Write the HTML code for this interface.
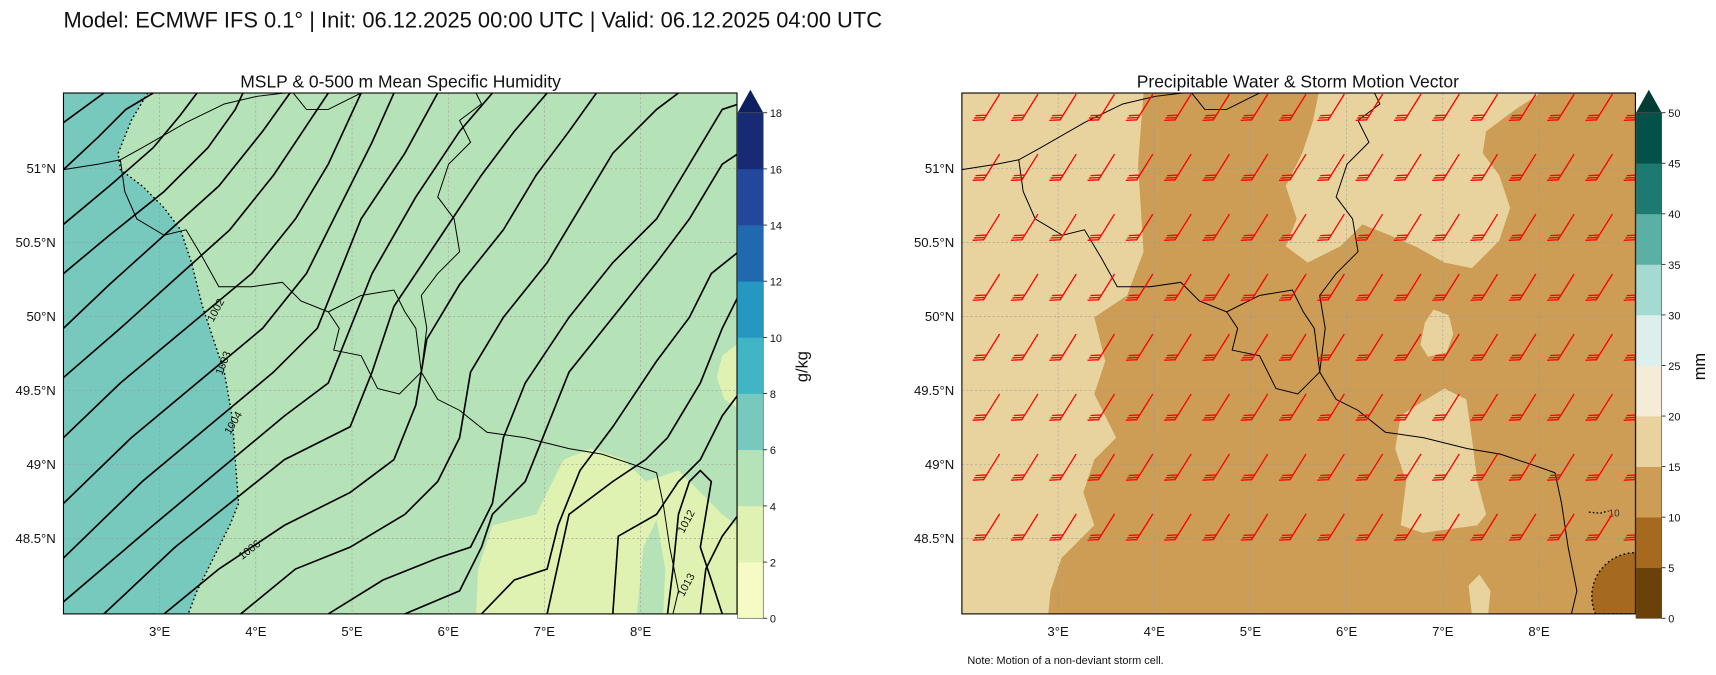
<!DOCTYPE html>
<html><head><meta charset="utf-8">
<style>
html,body{margin:0;padding:0;background:#fff;}
svg{display:block;font-family:"Liberation Sans","DejaVu Sans",sans-serif;}
</style></head>
<body>
<svg id="fig" width="1716" height="675" viewBox="0 0 1716 675" xmlns="http://www.w3.org/2000/svg">
<defs>
<clipPath id="clipL"><rect x="58" y="85" width="615.5" height="476"/></clipPath>
<clipPath id="clipR"><rect x="879" y="85" width="615.5" height="476"/></clipPath>
</defs>
<g id="root" transform="scale(1.0943)">
<text x="58" y="25" font-size="20" fill="#111">Model: ECMWF IFS 0.1° | Init: 06.12.2025 00:00 UTC | Valid: 06.12.2025 04:00 UTC</text>

<!-- LEFT MAP -->
<text x="366" y="80" font-size="16" text-anchor="middle" fill="#111">MSLP &amp; 0-500 m Mean Specific Humidity</text>
<g clip-path="url(#clipL)">
<rect x="58" y="85" width="616" height="476" fill="#b6e2b7"/>
<polygon fill="#77c8bd" points="58,85 135,85 120,110 108,140 110,155 130,170 150,190 165,210 175,240 185,280 195,310 205,340 212,380 215,420 218,460 210,480 195,510 180,540 172,561 58,561"/>
<polyline fill="none" stroke="#000" stroke-width="1.3" stroke-dasharray="1.5,2.5" points="135,85 120,110 108,140 110,155 130,170 150,190 165,210 175,240 185,280 195,310 205,340 212,380 215,420 218,460 210,480 195,510 180,540 172,561"/>
<polygon fill="#dff2b2" points="435,561 437,520 450,480 490,470 515,420 540,410 570,420 590,440 620,430 640,450 660,470 673,480 673,561"/>
<polygon fill="#b6e2b7" points="582,561 588,500 600,475 608,520 606,561"/>
<polygon fill="#dff2b2" points="673,315 660,325 655,345 662,365 673,372"/>
<g id="gridL"></g>
<g id="contoursL" fill="none" stroke="#000" stroke-width="1.5"></g>
<g id="bordersL" fill="none" stroke="#000" stroke-width="0.9"></g>
<g font-size="10" fill="#111">
<text x="200" y="285" transform="rotate(-62 200 285)" text-anchor="middle">1002</text>
<text x="207" y="333" transform="rotate(-68 207 333)" text-anchor="middle">1003</text>
<text x="216" y="388" transform="rotate(-60 216 388)" text-anchor="middle">1004</text>
<text x="230" y="505" transform="rotate(-38 230 505)" text-anchor="middle">1006</text>
<text x="630" y="478" transform="rotate(-62 630 478)" text-anchor="middle">1012</text>
<text x="630" y="536" transform="rotate(-62 630 536)" text-anchor="middle">1013</text>
</g>
</g>
<rect x="58" y="85" width="615.5" height="476" fill="none" stroke="#000" stroke-width="1"/>
<g id="cbarL"></g>
<text x="738" y="335" font-size="15" text-anchor="middle" transform="rotate(-90 738 335)" fill="#111">g/kg</text>

<!-- RIGHT MAP -->
<text x="1186" y="80" font-size="16" text-anchor="middle" fill="#111">Precipitable Water &amp; Storm Motion Vector</text>
<g clip-path="url(#clipR)">
<rect x="879" y="85" width="616" height="476" fill="#e8d39e"/>
<polygon fill="#cd9c55" points="1045,85 1040,150 1045,230 1030,270 1000,290 1010,330 1000,360 1020,400 1000,420 990,450 1000,480 970,510 960,540 958,561 1495,561 1495,85"/>
<polygon fill="#e8d39e" points="1205,85 1408,85 1385,100 1358,120 1355,140 1370,160 1380,190 1370,220 1345,245 1320,240 1295,226 1270,215 1245,205 1225,225 1195,240 1175,225 1185,200 1175,170 1190,140 1200,110"/>
<polygon fill="#e8d39e" points="1310,283 1324,288 1328,305 1322,322 1305,326 1298,315 1302,295"/>
<polygon fill="#e8d39e" points="1320,355 1340,365 1345,400 1350,440 1358,470 1350,480 1300,487 1280,480 1285,440 1275,410 1280,380 1295,370"/>
<polygon fill="#e8d39e" points="1342,535 1352,525 1362,540 1360,561 1345,561"/>
<path d="M1458,561 A40,40 0 0 1 1495,505 L1495,561 Z" fill="#a56a20" stroke="#000" stroke-width="1.3" stroke-dasharray="1.5,2.5"/>
<polyline points="1452,468 1462,469 1470,467" fill="none" stroke="#000" stroke-width="1.2" stroke-dasharray="1.5,2"/>
<text x="1470" y="472" font-size="9" fill="#333">10</text>
<g id="gridR"></g>
<g id="bordersR" fill="none" stroke="#000" stroke-width="0.9"></g>
<g id="barbs" fill="none" stroke="#f00" stroke-width="1.2"></g>
</g>
<rect x="879" y="85" width="615.5" height="476" fill="none" stroke="#000" stroke-width="1"/>
<g id="cbarR"></g>
<text x="1558" y="335" font-size="15" text-anchor="middle" transform="rotate(-90 1558 335)" fill="#111">mm</text>
<text x="884" y="607" font-size="10" fill="#111">Note: Motion of a non-deviant storm cell.</text>
<g id="axes"></g>
</g>
</svg>
<script>
// ---- data ----
var lonTicks = [3, 4, 5, 6, 7, 8];
var latTicks = [51, 50.5, 50, 49.5, 49, 48.5];
var humidityLevels = [0, 2, 4, 6, 8, 10, 12, 14, 16, 18];
var humidityColors = ["#f6fbc6", "#dff2b2", "#b6e2b7", "#77c8bd", "#40b5c4", "#2498c1", "#2069ae", "#23479c", "#172a73"];
var humidityExtend = "#0e2060";
var pwLevels = [0, 5, 10, 15, 20, 25, 30, 35, 40, 45, 50];
var pwColors = ["#6b4109", "#a56a20", "#cd9c55", "#e8d39e", "#f5ecd8", "#dcefec", "#a5dad2", "#5bb0a5", "#1c7a70", "#02524a"];
var pwExtend = "#013d35";
var barbCols = 18, barbRows = 8;

var NS = "http://www.w3.org/2000/svg";
function mk(tag, attrs, parent){ var e=document.createElementNS(NS,tag); for(var k in attrs) e.setAttribute(k,attrs[k]); parent.appendChild(e); return e; }
function lonX(lon, x0){ return x0 + (lon-2)*87.9; }
function latY(lat){ return 154 + (51-lat)*135.3; }

var axes = document.getElementById('axes');
[58, 879].forEach(function(x0, idx){
  var grid = document.getElementById(idx? 'gridR':'gridL');
  lonTicks.forEach(function(l){
    var x = lonX(l, x0);
    var g = mk('line',{x1:x,y1:85,x2:x,y2:561,stroke:'#999','stroke-width':0.5,'stroke-dasharray':'2,2'},grid);
    
    
    var t = mk('text',{x:x,y:581,'font-size':12,'text-anchor':'middle',fill:'#111'},axes);
    t.textContent = l + '°E';
    
    
  });
  latTicks.forEach(function(l){
    var y = latY(l);
    var g = mk('line',{x1:x0,y1:y,x2:x0+616,y2:y,stroke:'#999','stroke-width':0.5,'stroke-dasharray':'2,2'},grid);
    
    
    var t = mk('text',{x:x0-7,y:y+4,'font-size':12,'text-anchor':'end',fill:'#111'},axes);
    t.textContent = l + '°N';
    
    
  });
});

function colorbar(id, x, levels, colors, ext){
  var g = document.getElementById(id);
  var top=103, bot=565, w=23.5, n=levels.length-1;
  var vmax = levels[n], vmin = levels[0];
  function vy(v){ return bot - (v-vmin)/(vmax-vmin)*(bot-top); }
  for(var i=0;i<n;i++){
    var r = mk('rect',{x:x,y:vy(levels[i+1]),width:w,height:vy(levels[i])-vy(levels[i+1])+0.3,fill:colors[i]},g);
    
    
  }
  var tri = mk('polygon',{points:x+','+top+' '+(x+w/2)+','+(top-21)+' '+(x+w)+','+top,fill:ext},g);
  
  
  mk('rect',{x:x,y:top,width:w,height:bot-top,fill:'none',stroke:'#555','stroke-width':0.6},g);
  levels.forEach(function(v){
    var y=vy(v);
    mk('line',{x1:x+w,y1:y,x2:x+w+3.5,y2:y,stroke:'#222','stroke-width':0.8},g);
    var t = mk('text',{x:x+w+6,y:y+4,'font-size':10,fill:'#111'},g);
    t.textContent = v;
    
    
  });
}
colorbar('cbarL', 674, humidityLevels, humidityColors, humidityExtend);
colorbar('cbarR', 1495, pwLevels, pwColors, pwExtend);

var isobars = [
"58,112 95,85","58,155 90,125 115,100 140,85","58,205 100,170 140,135 165,105 180,85",
"58,250 100,215 150,175 190,135 215,100 222,85","58,300 100,260 150,215 200,170 240,120 265,85",
"58,345 110,300 160,255 210,210 250,160 280,115 300,85","58,400 110,350 170,300 230,250 270,200 300,150 330,85",
"58,460 120,400 180,350 240,300 280,250 310,190 340,130 360,85",
"58,510 130,440 190,390 250,340 290,300 310,250 330,200 370,140 400,85",
"58,550 140,480 200,430 260,380 300,350 320,300 340,250 380,180 420,120 450,85",
"95,561 160,500 210,460 260,420 320,390 340,340 360,280 400,220 440,160 470,120 500,85",
"150,561 200,520 260,480 320,450 360,420 380,370 390,310 420,260 460,210 490,160 520,120 545,85",
"220,561 270,520 320,500 370,470 400,440 420,400 430,340 460,290 500,240 530,190 560,140 600,100 620,85",
"300,561 350,530 400,510 430,500 450,460 460,400 480,350 520,290 560,240 600,200 630,150 660,100 675,95",
"370,561 420,540 440,500 450,470 480,440 500,390 520,340 560,290 600,240 630,200 660,150 675,140",
"440,561 470,530 500,520 510,480 530,430 560,390 600,330 630,290 650,250 675,230",
"500,561 520,470 560,440 590,420 610,400 640,350 660,300 675,270",
"560,561 565,490 600,470 620,440 640,420 660,380 675,360",
"610,561 615,520 620,470 630,440 640,430 650,440 640,500 650,530 660,561",
"640,561 645,520 660,490 675,470"];
var cl = document.getElementById('contoursL');
isobars.forEach(function(p){
  var e = mk('polyline',{points:p},cl);
  
  
});

var borders = [
"58,155 90,150 110,146 130,135 170,112 205,95 235,88 260,85",
"110,146 114,175 125,200 150,215 170,210 185,235 200,262 230,262 258,258 275,275 300,285",
"300,285 310,300 305,320 330,325 345,355 365,360 385,340 400,365 420,375 445,395 480,400 520,410 550,415 580,425 600,432",
"600,432 606,460 612,500 620,540 615,561",
"385,340 390,300 385,270 400,250 420,230 415,200 400,180 410,150 430,130 420,110 440,95 435,85",
"300,285 330,270 360,265 370,285 380,300 385,340",
"268,85 280,100 300,100 320,90 330,85"];
['bordersL','bordersR'].forEach(function(id, idx){
  var g = document.getElementById(id);
  borders.forEach(function(p){
    var pts = idx ? p.split(' ').map(function(s){var a=s.split(',');return (+a[0]+821)+','+a[1];}).join(' ') : p;
    var e = mk('polyline',{points:pts},g);
    
    
  });
});

var bg = document.getElementById('barbs');
for(var r=0;r<barbRows;r++){
  for(var c=-1;c<barbCols;c++){
    var bx = 898.5 + c*35, by = 110 + r*54.8;
    var sx = 15, sy = -24;
    var d = 'M'+bx+','+by+' l'+sx+','+sy;
    for(var f=0; f<3; f++){
      var t = 0.02 + f*0.09;
      var ax = bx + sx*t, ay = by + sy*t;
      d += ' M'+ax.toFixed(1)+','+ay.toFixed(1)+' l-10,0.5';
    }
    var e = mk('path',{d:d},bg);
    
    
  }
}
</script>
</body></html>
